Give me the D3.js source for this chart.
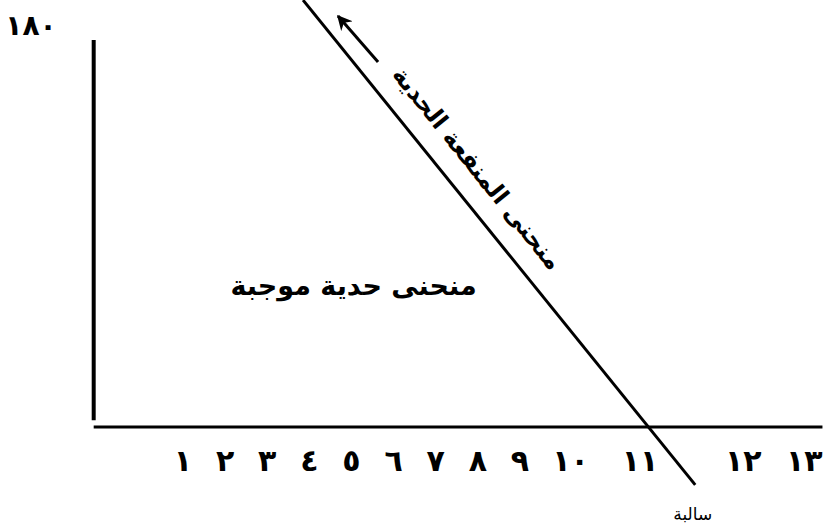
<!DOCTYPE html>
<html>
<head>
<meta charset="utf-8">
<script src="https://cdn.jsdelivr.net/npm/d3@7"></script>
<style>
  body { margin: 0; background: #fff; }
  text { font-family: "DejaVu Sans", sans-serif; fill: #000; }
</style>
</head>
<body>
<div id="chart"></div>
<script>
// tick labels and where they sit along the quantity axis (units of the x scale)
const tickLabels = ["١", "٢", "٣", "٤", "٥", "٦", "٧", "٨", "٩", "١٠", "١١", "١٢", "١٣"];
const tickPos = [1, 2, 3, 4, 5, 6, 7, 8, 9, 10.2, 11.85, 14.3, 15.75];

// marginal utility line: two end points (quantity, utility)
const curveQ = [3.85, 13.16];
const curveU = [190.2, -25.8];

// arrow along the curve (tail -> head)
const arrowQ = [5.63, 4.68];
const arrowU = [162.6, 183.1];

const yTopLabel = "١٨٠";
const yMax = 180;

const WIDTH = 830, HEIGHT = 526;

const x = d3.scaleLinear().domain([1, 9]).range([183, 520]);
const y = d3.scaleLinear().domain([0, yMax]).range([427, 23]);

const svg = d3.select("#chart")
    .append("svg")
    .attr("width", WIDTH)
    .attr("height", HEIGHT);

svg.append("defs").append("marker")
    .attr("id", "head")
    .attr("viewBox", "0 0 10 10")
    .attr("refX", 9)
    .attr("refY", 5)
    .attr("markerWidth", 5)
    .attr("markerHeight", 5)
    .attr("markerUnits", "strokeWidth")
    .attr("orient", "auto")
    .append("path")
    .attr("d", "M0,0 L10,5 L0,10 L3,5 Z")
    .attr("fill", "#000");

// axes
svg.append("line")
    .attr("x1", x(-1.12)).attr("x2", x(-1.12))
    .attr("y1", y(172.4)).attr("y2", y(3))
    .attr("stroke", "#000").attr("stroke-width", 4);

svg.append("line")
    .attr("x1", x(-1.12)).attr("x2", x(16.18))
    .attr("y1", y(0)).attr("y2", y(0))
    .attr("stroke", "#000").attr("stroke-width", 3);

// tick labels
svg.selectAll(".tick")
    .data(tickLabels)
    .enter()
    .append("text")
    .attr("class", "tick")
    .attr("x", (d, i) => x(tickPos[i]))
    .attr("y", y(0) + 44)
    .attr("text-anchor", "middle")
    .attr("font-size", "30px")
    .attr("font-weight", "bold")
    .text(d => d);

svg.append("text")
    .attr("x", 31)
    .attr("y", y(yMax) + 12)
    .attr("text-anchor", "middle")
    .attr("font-size", "28px")
    .attr("font-weight", "bold")
    .text(yTopLabel);

// the curve
const line = d3.line().x(d => x(d[0])).y(d => y(d[1]));
svg.append("path")
    .attr("d", line(d3.zip(curveQ, curveU)))
    .attr("stroke", "#000")
    .attr("stroke-width", 3)
    .attr("fill", "none");

svg.append("path")
    .attr("d", line(d3.zip(arrowQ, arrowU)))
    .attr("stroke", "#000")
    .attr("stroke-width", 3)
    .attr("fill", "none")
    .attr("marker-end", "url(#head)");

// rotated label along the curve
const px0 = x(curveQ[0]), py0 = y(curveU[0]);
const px1 = x(curveQ[1]), py1 = y(curveU[1]);
const angle = Math.atan2(py1 - py0, px1 - px0) * 180 / Math.PI;

svg.append("text")
    .attr("transform", `translate(${x(7.9)},${y(114)}) rotate(${angle})`)
    .attr("text-anchor", "middle")
    .attr("dy", "0.15em")
    .attr("font-size", "24px")
    .attr("font-weight", "bold")
    .attr("direction", "rtl")
    .text("منحنى المنفعة الحدية");

svg.append("text")
    .attr("x", x(5.05))
    .attr("y", y(59))
    .attr("text-anchor", "middle")
    .attr("font-size", "27px")
    .attr("font-weight", "bold")
    .attr("direction", "rtl")
    .text("منحنى حدية موجبة");

svg.append("text")
    .attr("x", x(13.1))
    .attr("y", y(0) + 93)
    .attr("text-anchor", "middle")
    .attr("font-size", "17px")
    .attr("direction", "rtl")
    .text("سالبة");
</script>
</body>
</html>
